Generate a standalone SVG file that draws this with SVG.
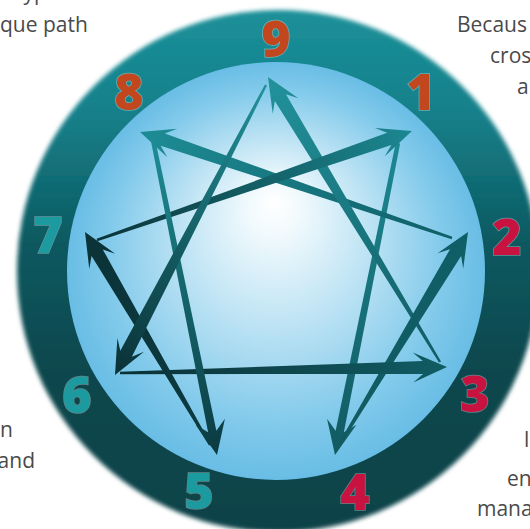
<svg xmlns="http://www.w3.org/2000/svg" width="530" height="529" viewBox="0 0 530 529">
<defs>
<style>
.note{font-family:"Open Sans","Liberation Sans",sans-serif;font-size:21px;fill:#4a4a4a}
.num{font-family:"Open Sans","DejaVu Sans",sans-serif;font-weight:800;font-size:50px;text-anchor:middle;paint-order:stroke;stroke:#ffffff;stroke-opacity:0.35;stroke-width:1.5}
.rust{fill:#c2471f}
.red{fill:#c8123f}
.teal{fill:#1b9aa0}
</style>
<filter id="soft" x="-5%" y="-5%" width="110%" height="110%"><feGaussianBlur stdDeviation="2"/></filter>
<linearGradient id="ring" gradientUnits="userSpaceOnUse" x1="0" y1="10" x2="0" y2="530">
<stop offset="0" stop-color="#1b9099"/><stop offset="0.2" stop-color="#16808a"/><stop offset="0.45" stop-color="#0d5960"/><stop offset="0.7" stop-color="#0a474d"/><stop offset="1" stop-color="#0b434a"/>
</linearGradient>
<radialGradient id="disc" gradientUnits="userSpaceOnUse" cx="276" cy="271" r="209" fx="274" fy="200">
<stop offset="0" stop-color="#ffffff"/><stop offset="0.12" stop-color="#f2fafd"/><stop offset="0.45" stop-color="#bde3f4"/><stop offset="0.8" stop-color="#82caeb"/><stop offset="1" stop-color="#69bde5"/>
</radialGradient>
<linearGradient id="g1" gradientUnits="userSpaceOnUse" x1="398" y1="143" x2="335" y2="455"><stop offset="0" stop-color="#1c8892"/><stop offset="1" stop-color="#125a62"/></linearGradient>
<linearGradient id="g2" gradientUnits="userSpaceOnUse" x1="452" y1="238" x2="140" y2="132"><stop offset="0" stop-color="#0f5f67"/><stop offset="1" stop-color="#1e8c95"/></linearGradient>
<linearGradient id="g3" gradientUnits="userSpaceOnUse" x1="440" y1="362" x2="268" y2="77"><stop offset="0" stop-color="#115c64"/><stop offset="1" stop-color="#22929b"/></linearGradient>
<linearGradient id="g4" gradientUnits="userSpaceOnUse" x1="338" y1="447" x2="468" y2="232"><stop offset="0" stop-color="#125a62"/><stop offset="1" stop-color="#0f5f67"/></linearGradient>
<linearGradient id="g5" gradientUnits="userSpaceOnUse" x1="210" y1="445" x2="85" y2="232"><stop offset="0" stop-color="#0b3a40"/><stop offset="1" stop-color="#0b3338"/></linearGradient>
<linearGradient id="g6" gradientUnits="userSpaceOnUse" x1="120" y1="373" x2="447" y2="367"><stop offset="0" stop-color="#0a3136"/><stop offset="1" stop-color="#115c64"/></linearGradient>
<linearGradient id="g7" gradientUnits="userSpaceOnUse" x1="97" y1="240" x2="412" y2="131"><stop offset="0" stop-color="#0b3338"/><stop offset="1" stop-color="#1c8892"/></linearGradient>
<linearGradient id="g8" gradientUnits="userSpaceOnUse" x1="153" y1="140" x2="217" y2="455"><stop offset="0" stop-color="#1e8c95"/><stop offset="1" stop-color="#0b3a40"/></linearGradient>
<linearGradient id="g9" gradientUnits="userSpaceOnUse" x1="266" y1="85" x2="115" y2="375"><stop offset="0" stop-color="#22929b"/><stop offset="1" stop-color="#0a3136"/></linearGradient>
</defs>
<rect width="530" height="529" fill="#ffffff"/>
<g id="notes">
<text class="note" x="16" y="0">type</text>
<text class="note" x="0" y="32">que path</text>
<text class="note" x="457" y="32">Becaus</text>
<text class="note" x="490" y="63">cros</text>
<text class="note" x="517" y="94">a</text>
<text class="note" x="13" y="437" text-anchor="end">n</text>
<text class="note" x="35" y="468" text-anchor="end">and</text>
<text class="note" x="524" y="447">l</text>
<text class="note" x="507" y="486">en</text>
<text class="note" x="477" y="516">mana</text>
</g>
<g id="wheel">
<circle cx="278" cy="271" r="261" fill="url(#ring)" filter="url(#soft)"/>
<circle cx="276" cy="271" r="209" fill="url(#disc)"/>
</g>
<g id="connectors">
<polygon id="a1-4" fill="url(#g1)" points="335,455 327.03,418.7 335.63,430.65 395.84,142.56 400.16,143.44 343.87,432.31 356.43,424.64"/>
<polygon id="a2-8" fill="url(#g2)" points="140,132 177.02,128.74 164.82,133.57 452.39,236.86 451.61,239.14 160.64,145.87 167.36,157.14"/>
<polygon id="a3-9" fill="url(#g3)" points="268,77 298.41,98.36 285.96,94.19 441.03,361.38 438.97,362.62 274.84,100.91 272.73,113.86"/>
<polygon id="a4-2" fill="url(#g4)" points="468,232 463.24,268.86 461.14,255.9 339.03,447.62 336.97,446.38 450.02,249.18 437.56,253.34"/>
<polygon id="a5-7" fill="url(#g5)" points="85,232 115.15,253.73 102.76,249.41 211.03,444.39 208.97,445.61 91.54,255.99 89.27,268.91"/>
<polygon id="a6-3" fill="url(#g6)" points="447,367 413.29,382.62 423.12,373.94 120.02,374.2 119.98,371.8 422.88,360.94 412.73,352.62"/>
<polygon id="a7-1" fill="url(#g7)" points="412,131 384.78,156.3 391.45,144.99 97.39,241.13 96.61,238.87 387.19,132.71 374.96,127.94"/>
<polygon id="a8-5" fill="url(#g8)" points="217,455 195.53,424.67 208.1,432.32 150.84,140.44 155.16,139.56 216.34,430.64 224.93,418.69"/>
<polygon id="a9-6" fill="url(#g9)" points="115,375 117.4,337.92 120.32,350.71 264.94,84.45 267.06,85.55 131.84,356.71 144,351.78"/>
</g>
<g id="n9"><text class="num rust" x="276" y="57">9</text></g>
<g id="n1"><text class="num rust" x="421" y="110">1</text></g>
<g id="n2"><text class="num red" x="507" y="255">2</text></g>
<g id="n3"><text class="num red" x="475" y="412">3</text></g>
<g id="n4"><text class="num red" x="355" y="510">4</text></g>
<g id="n5"><text class="num teal" x="199" y="509">5</text></g>
<g id="n6"><text class="num teal" x="77" y="413">6</text></g>
<g id="n7"><text class="num teal" x="48" y="253">7</text></g>
<g id="n8"><text class="num rust" x="129" y="110">8</text></g>
</svg>
